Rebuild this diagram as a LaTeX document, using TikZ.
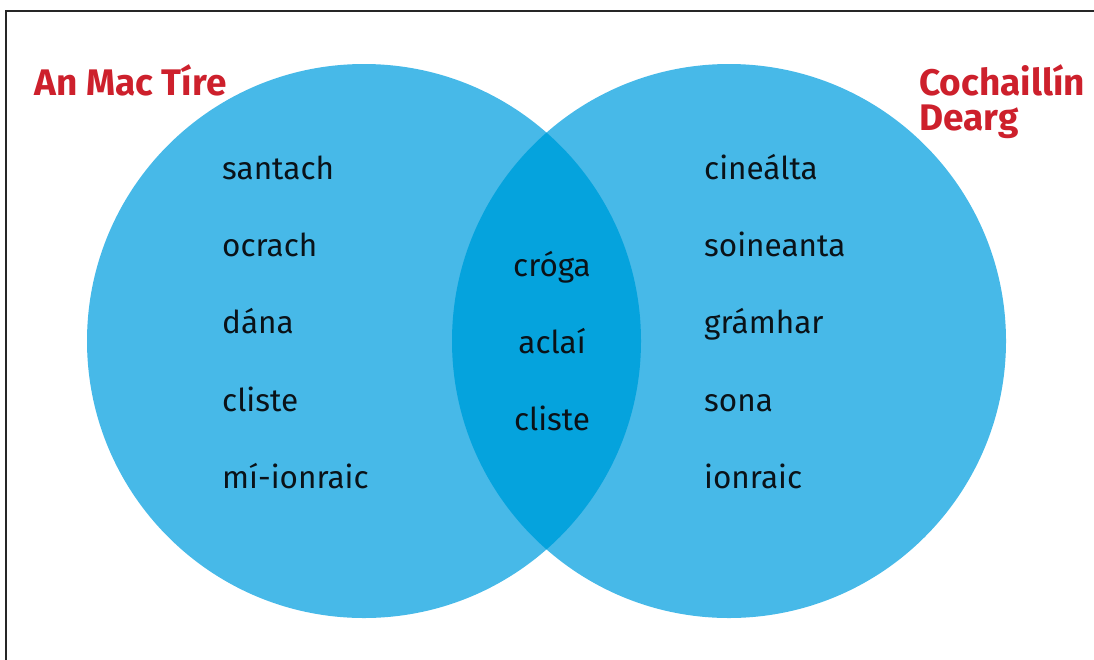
\documentclass[tikz,border=0pt]{standalone}
\usepackage{fontspec}
\setmainfont{Fira Sans}
\usetikzlibrary{positioning}

\definecolor{setblue}{HTML}{47B9E8}
\definecolor{bothblue}{HTML}{05A3DD}
\definecolor{titlered}{HTML}{CD202C}
\definecolor{wordink}{HTML}{0A1218}

\begin{document}
\begin{tikzpicture}[
    x=1pt, y=-1pt,
    node distance=48pt,
    word/.style={inner sep=0pt, text height=22pt, text depth=7pt, text=wordink, font=\fontsize{31.5}{31.5}\selectfont},
    title/.style={inner sep=0pt, text=titlered, align=left, font=\bfseries\fontsize{37}{35}\selectfont}
]
    \useasboundingbox (0,0) rectangle (1094,659);
    \clip (0,0) rectangle (1094,659);

    % Frame
    \draw[line width=1.6pt, black!85] (6,11) rectangle (1110,680);

    % Sets
    \fill[setblue] (364,341) circle (277);
    \fill[setblue] (729,341) circle (277);
    \begin{scope}
        \clip (364,341) circle (277);
        \fill[bothblue] (729,341) circle (277);
    \end{scope}

    % Titles
    \node[title, anchor=base west] (wolf) at (34,95) {An Mac Tíre};
    \node[title, anchor=north west] (hood) at (919,64) {Cochaillín\\Dearg};

    % Left set
    \node[word, anchor=base west] (santach) at (222,179) {santach};
    \node[word, below=of santach.south west, anchor=north west] (ocrach) {ocrach};
    \node[word, below=of ocrach.south west, anchor=north west] (dana) {dána};
    \node[word, below=of dana.south west, anchor=north west] (clisteL) {cliste};
    \node[word, below=of clisteL.south west, anchor=north west] (mionraic) {mí-ionraic};

    % Both sets
    \node[word, anchor=base] (croga) at (552,276) {cróga};
    \node[word, below=of croga] (aclai) {aclaí};
    \node[word, below=of aclai] (clisteM) {cliste};

    % Right set
    \node[word, anchor=base west] (cinealta) at (704,179) {cineálta};
    \node[word, below=of cinealta.south west, anchor=north west] (soineanta) {soineanta};
    \node[word, below=of soineanta.south west, anchor=north west] (gramhar) {grámhar};
    \node[word, below=of gramhar.south west, anchor=north west] (sona) {sona};
    \node[word, below=of sona.south west, anchor=north west] (ionraic) {ionraic};
\end{tikzpicture}
\end{document}
